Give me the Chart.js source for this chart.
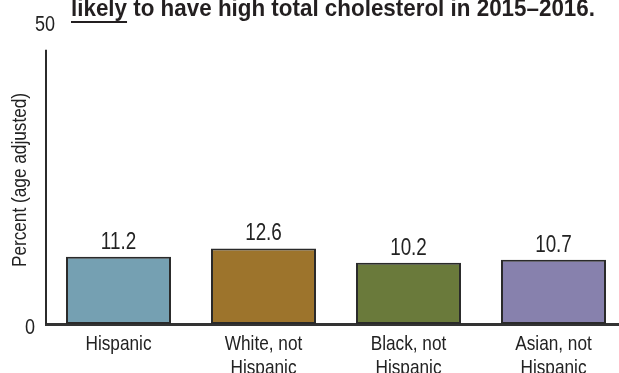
<!DOCTYPE html>
<html>
<head>
<meta charset="utf-8">
<script src="https://cdn.jsdelivr.net/npm/chart.js@4/dist/chart.umd.min.js"></script>
<style>
  html, body { margin: 0; padding: 0; background: #ffffff; overflow: hidden; width: 619px; height: 373px; }
  #wrap { width: 626px; height: 373px; }
</style>
</head>
<body>
<div id="wrap"><canvas id="c" width="626" height="373"></canvas></div>
<script>
// ---- data ----
const categories = [["Hispanic"], ["White, not", "Hispanic"], ["Black, not", "Hispanic"], ["Asian, not", "Hispanic"]];
const values = [11.2, 12.6, 10.2, 10.7];
const valueLabels = ["11.2", "12.6", "10.2", "10.7"];
const yTickValues = [0, 50];
const yTickLabels = ["0", "50"];
const titleText = "likely to have high total cholesterol in 2015\u20132016.";
const underlinedWord = "likely";
const yAxisTitle = "Percent (age adjusted)";

// ---- styles ----
const FONT = "'Liberation Sans', Arial, sans-serif";
const barColors = ["#75a0b2", "#9d742c", "#6a7a3b", "#8781ad"];
const inkColor = "#222222";

// draw text horizontally condensed (narrow typeface look)
function condensedText(ctx, text, x, y, squeeze) {
  ctx.save();
  ctx.translate(x, y);
  ctx.scale(squeeze, 1);
  ctx.fillText(text, 0, 0);
  ctx.restore();
}

const overlayPlugin = {
  id: 'overlay',
  afterDraw(chart) {
    const ctx = chart.ctx;
    const y = chart.scales.y;
    const x0 = chart.chartArea.left;
    const SQ = 0.82;
    ctx.save();
    // y axis line (starts a little below the top value)
    ctx.strokeStyle = "#2b2b2b";
    ctx.lineWidth = 2;
    ctx.beginPath();
    ctx.moveTo(x0, y.getPixelForValue(45.7));
    ctx.lineTo(x0, y.getPixelForValue(0));
    ctx.stroke();

    // y tick labels
    ctx.fillStyle = inkColor;
    ctx.font = "22px " + FONT;
    ctx.textBaseline = "middle";
    yTickValues.forEach((v, i) => {
      const py = y.getPixelForValue(v);
      if (v === y.max) {
        ctx.textAlign = "center";
        condensedText(ctx, yTickLabels[i], x0 - 1, py + 1, SQ);
      } else {
        ctx.textAlign = "right";
        condensedText(ctx, yTickLabels[i], x0 - 11, py + 4, SQ);
      }
    });

    // y axis title
    ctx.save();
    ctx.font = "21px " + FONT;
    ctx.textAlign = "center";
    ctx.textBaseline = "middle";
    ctx.translate(20, (y.top + y.bottom) / 2 + 6);
    ctx.rotate(-Math.PI / 2);
    ctx.scale(SQ, 1);
    ctx.fillText(yAxisTitle, 0, 0);
    ctx.restore();

    // value labels above bars
    const meta = chart.getDatasetMeta(0);
    ctx.font = "23px " + FONT;
    ctx.textAlign = "center";
    ctx.textBaseline = "alphabetic";
    meta.data.forEach((bar, i) => {
      condensedText(ctx, valueLabels[i], bar.x, bar.y - 8, SQ);
    });

    // category labels under the x axis
    const xs = chart.scales.x;
    ctx.font = "21px " + FONT;
    ctx.textAlign = "center";
    ctx.textBaseline = "middle";
    categories.forEach((lines, i) => {
      const px = xs.getPixelForTick(i);
      lines.forEach((line, j) => {
        condensedText(ctx, line, px, xs.top + 20 + j * 24, SQ);
      });
    });

    // title (second line, partially clipped at top)
    const targetWidth = 524;
    ctx.font = "bold 24px " + FONT;
    const w = ctx.measureText(titleText).width;
    const tsq = targetWidth / w;
    ctx.textAlign = "left";
    ctx.textBaseline = "alphabetic";
    ctx.fillStyle = "#231f20";
    const tx = 71, ty = 16;
    condensedText(ctx, titleText, tx, ty, tsq);
    const uw = ctx.measureText(underlinedWord).width * tsq;
    ctx.fillRect(tx, ty + 5, uw, 2);
    ctx.restore();
  }
};

new Chart(document.getElementById('c'), {
  type: 'bar',
  data: {
    labels: categories,
    datasets: [{
      data: values,
      backgroundColor: barColors,
      borderColor: "#2a2a2a",
      borderWidth: 2,
      borderSkipped: false,
      barPercentage: 0.724,
      categoryPercentage: 1
    }]
  },
  options: {
    responsive: false,
    animation: false,
    devicePixelRatio: 1,
    layout: { padding: { top: 24, left: 0, right: 0, bottom: 0 } },
    plugins: { legend: { display: false }, tooltip: { enabled: false }, title: { display: false } },
    scales: {
      x: {
        grid: { display: false, drawTicks: false },
        border: { display: true, color: "#333333", width: 3 },
        ticks: { display: false },
        afterFit(s) { s.height = 49; }
      },
      y: {
        min: 0,
        max: 50,
        afterBuildTicks(s) { s.ticks = yTickValues.map(v => ({ value: v })); },
        grid: { display: false, drawTicks: false },
        border: { display: false },
        ticks: { display: false },
        afterFit(s) { s.width = 46; }
      }
    }
  },
  plugins: [overlayPlugin]
});
</script>
</body>
</html>
